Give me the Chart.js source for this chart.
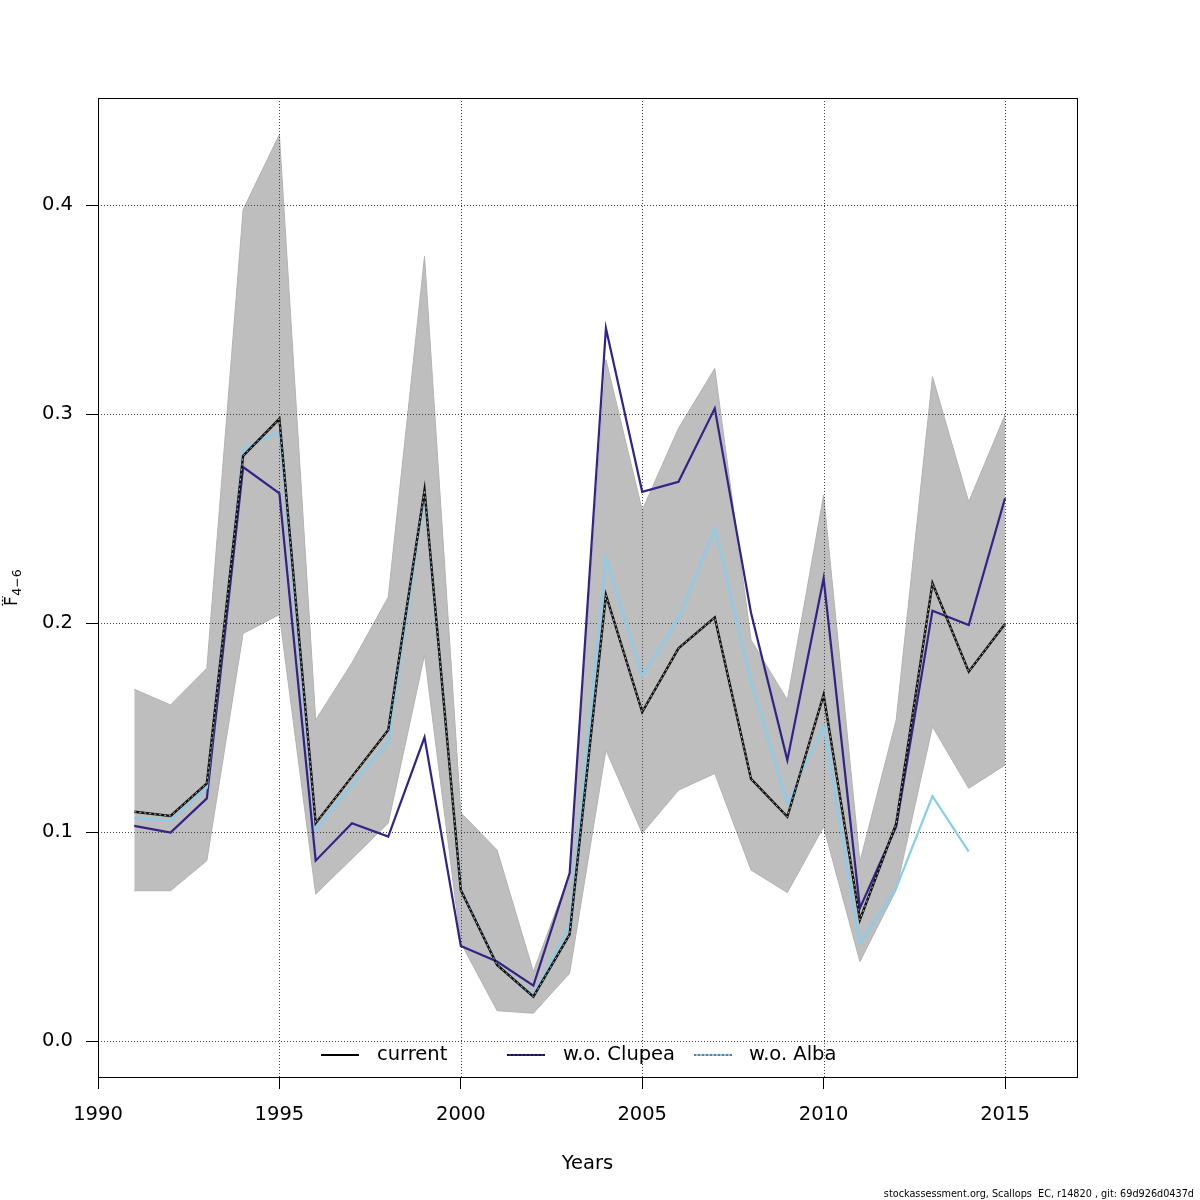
<!DOCTYPE html>
<html><head><meta charset="utf-8">
<script src="https://cdn.jsdelivr.net/npm/chart.js@4"></script>
<style>html,body{margin:0;padding:0;background:#fff}canvas{display:block}</style>
</head><body>
<canvas id="c" width="1200" height="1200" style="width:1200px;height:1200px"></canvas>
<script>
const years = [1991,1992,1993,1994,1995,1996,1997,1998,1999,2000,2001,2002,2003,2004,2005,2006,2007,2008,2009,2010,2011,2012,2013,2014,2015];
const current = [0.1097,0.1077,0.1233,0.2800,0.2977,0.1042,0.1265,0.1488,0.2636,0.0722,0.0364,0.0212,0.0510,0.2134,0.1574,0.1879,0.2027,0.1254,0.1073,0.1656,0.0580,0.1040,0.2190,0.1767,0.1995];
const clupea = [0.1029,0.0997,0.1161,0.2746,0.2620,0.0863,0.1042,0.0978,0.1453,0.0455,0.0380,0.0265,0.0804,0.3410,0.2628,0.2676,0.3027,0.2048,0.1344,0.2214,0.0636,0.1025,0.2059,0.1990,0.2597];
const albaYears = [1991,1992,1993,1994,1995,1996,1997,1998,1999,2000,2001,2002,2003,2004,2005,2006,2007,2008,2009,2010,2011,2012,2013,2014];
const alba = [0.1066,0.1054,0.1212,0.2833,0.2917,0.1010,0.1225,0.1432,0.2610,0.0730,0.0364,0.0220,0.0555,0.2314,0.1746,0.2022,0.2453,0.1719,0.1137,0.1507,0.0467,0.0731,0.1172,0.0906];
const upper = [0.1683,0.1608,0.1783,0.3978,0.4337,0.1536,0.1810,0.2124,0.3755,0.1093,0.0914,0.0332,0.0800,0.3260,0.2540,0.2932,0.3218,0.1919,0.1632,0.2612,0.0858,0.1536,0.3179,0.2580,0.2995];
const lower = [0.0719,0.0719,0.0863,0.1950,0.2040,0.0703,0.0872,0.1042,0.1847,0.0470,0.0145,0.0133,0.0324,0.1392,0.0994,0.1200,0.1280,0.0818,0.0710,0.1025,0.0380,0.0722,0.1504,0.1209,0.1320];
const xTicks = [1990,1995,2000,2005,2010,2015];
const yTicks = [0.0,0.1,0.2,0.3,0.4];
const legendLabels = ['current','w.o. Clupea','w.o. Alba'];
const seriesColors = ['#000000','#332288','#88CCEE'];
const xTitle = 'Years';
const footer = 'stockassessment.org, Scallops  EC, r14820 , git: 69d926d0437d';

const FONT = '"DejaVu Sans", sans-serif';
const pts = (xs, ys) => xs.map((x, i) => ({x, y: ys[i]}));

const gridPlugin = {
  id: 'gridAfterBand',
  afterDatasetDraw(chart, args) {
    if (args.index !== 1) return;
    const {ctx, chartArea: a, scales: {x, y}} = chart;
    ctx.save();
    ctx.beginPath(); ctx.rect(a.left, a.top, a.right - a.left, a.bottom - a.top); ctx.clip();
    ctx.strokeStyle = '#444'; ctx.lineWidth = 1; ctx.setLineDash([1, 2]);
    xTicks.forEach(v => { const p = Math.round(x.getPixelForValue(v)) + 0.5; ctx.beginPath(); ctx.moveTo(p, a.top); ctx.lineTo(p, a.bottom); ctx.stroke(); });
    yTicks.forEach(v => { const p = Math.round(y.getPixelForValue(v)) + 0.5; ctx.beginPath(); ctx.moveTo(a.left, p); ctx.lineTo(a.right, p); ctx.stroke(); });
    ctx.restore();
  }
};

const decorPlugin = {
  id: 'decor',
  afterDraw(chart) {
    const {ctx, chartArea: a} = chart;
    ctx.save();
    // box
    ctx.strokeStyle = '#000'; ctx.lineWidth = 1; ctx.setLineDash([]);
    ctx.strokeRect(a.left + 0.5, a.top + 0.5, a.right - a.left, a.bottom - a.top);
    // legend
    const ly = a.bottom - 22;
    const items = [[a.left + 223, a.left + 261, a.left + 279], [a.left + 409, a.left + 447, a.left + 465], [a.left + 596, a.left + 634, a.left + 651]];
    ctx.font = '19.5px ' + FONT; ctx.textBaseline = 'middle'; ctx.textAlign = 'left'; ctx.fillStyle = '#000';
    items.forEach((it, i) => {
      ctx.setLineDash([]); ctx.lineWidth = 2.2; ctx.strokeStyle = seriesColors[i];
      ctx.beginPath(); ctx.moveTo(it[0], ly); ctx.lineTo(it[1], ly); ctx.stroke();
      if (i > 0) {
        ctx.setLineDash([2, 2]); ctx.lineWidth = 1; ctx.strokeStyle = i === 1 ? '#000' : '#334';
        ctx.beginPath(); ctx.moveTo(it[0], ly); ctx.lineTo(it[1], ly); ctx.stroke();
      }
      ctx.fillText(legendLabels[i], it[2], ly);
    });
    // x title
    ctx.textAlign = 'center'; ctx.textBaseline = 'alphabetic';
    ctx.fillText(xTitle, (a.left + a.right) / 2, 1169);
    // y title: F-bar with subscript 4-6, rotated
    ctx.save();
    ctx.translate(17, 588); ctx.rotate(-Math.PI / 2);
    ctx.font = '17px ' + FONT;
    const wF = ctx.measureText('F').width;
    ctx.font = '12.5px ' + FONT;
    const wS = ctx.measureText('4\u22126').width;
    const x0 = -(wF + wS) / 2;
    ctx.font = '17px ' + FONT; ctx.textAlign = 'left';
    ctx.fillText('F', x0, 0);
    ctx.lineWidth = 1.2; ctx.strokeStyle = '#000';
    ctx.beginPath(); ctx.moveTo(x0 + 0.5, -14.5); ctx.lineTo(x0 + wF, -14.5); ctx.stroke();
    ctx.font = '12.5px ' + FONT;
    ctx.fillText('4\u22126', x0 + wF + 0.5, 4);
    ctx.restore();
    // footer
    ctx.font = '9.7px ' + FONT; ctx.textAlign = 'right'; ctx.textBaseline = 'alphabetic';
    ctx.fillText(footer, 1194, 1197);
    ctx.restore();
  }
};

const lineDs = (label, data, color, width, order, extra) => Object.assign({
  label, data, borderColor: color, borderWidth: width, pointRadius: 0, tension: 0, fill: false, order
}, extra || {});

new Chart(document.getElementById('c'), {
  type: 'line',
  data: {
    datasets: [
      lineDs('upper', pts(years, upper), '#b2b2b2', 1, 5, {fill: '+1', backgroundColor: '#bebebe'}),
      lineDs('lower', pts(years, lower), '#b2b2b2', 1, 4),
      lineDs(legendLabels[1], pts(years, clupea), seriesColors[1], 2.2, 3),
      lineDs(legendLabels[2], pts(albaYears, alba), seriesColors[2], 2.2, 2),
      lineDs(legendLabels[0], pts(years, current), '#111', 2.4, 1),
      lineDs('current-dots', pts(years, current), 'rgba(215,215,215,0.95)', 0.9, 0, {borderDash: [2, 3]})
    ]
  },
  options: {
    responsive: false, animation: false, devicePixelRatio: 1,
    layout: {padding: {left: 0, top: 98, right: 123, bottom: 0}},
    plugins: {legend: {display: false}, tooltip: {enabled: false}},
    scales: {
      x: {
        type: 'linear', min: 1990, max: 2016.984,
        afterFit: s => { s.height = 123; },
        afterBuildTicks: s => { s.ticks = xTicks.map(v => ({value: v})); },
        grid: {color: 'rgba(0,0,0,0)', drawTicks: true, tickLength: 12, tickColor: '#000', tickWidth: 1},
        border: {display: false},
        ticks: {font: {family: FONT, size: 19.5}, color: '#000', padding: 14, maxRotation: 0, autoSkip: false, callback: v => String(v)}
      },
      y: {
        type: 'linear', min: -0.01722, max: 0.4512,
        afterFit: s => { s.width = 98; },
        afterBuildTicks: s => { s.ticks = yTicks.map(v => ({value: v})); },
        grid: {color: 'rgba(0,0,0,0)', drawTicks: true, tickLength: 12, tickColor: '#000', tickWidth: 1},
        border: {display: false},
        ticks: {font: {family: FONT, size: 19.5}, color: '#000', padding: 13, autoSkip: false, callback: v => v.toFixed(1)}
      }
    }
  },
  plugins: [gridPlugin, decorPlugin]
});
</script>
</body></html>
